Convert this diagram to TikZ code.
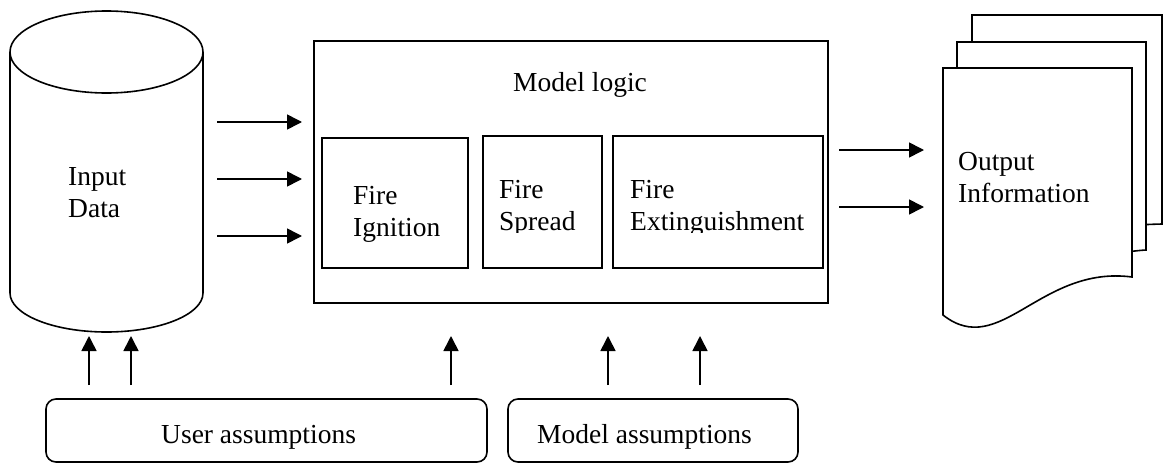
\documentclass[tikz,border=0pt]{standalone}
\usepackage{fontspec}
\setmainfont{Liberation Serif}
\usetikzlibrary{arrows.meta}
\tikzset{
  ln/.style={line width=1.6pt, draw=black},
  box/.style={ln, rectangle, inner sep=0pt},
  rbox/.style={ln, rectangle, rounded corners=10pt, inner sep=0pt},
  arr/.style={ln, -{Triangle[length=15pt,width=15pt]}},
  txt/.style={anchor=base west, inner sep=0pt, font=\fontsize{27.5}{32}\selectfont},
  page/.style={ln, fill=white, line join=miter}
}
\begin{document}
\begin{tikzpicture}[x=1pt,y=-1pt]
\useasboundingbox (0,0) rectangle (1167,463);

% Input data cylinder
\draw[ln] (10,52) -- (10,293) arc[start angle=180, end angle=0, x radius=96.5, y radius=39] -- (203,52);
\draw[ln] (106.5,52) ellipse [x radius=96.5, y radius=41];
\node[txt] (in1) at (68,185) {Input};
\node[txt] (in2) at (68,217) {Data};

% Model logic
\node[box, minimum width=514pt, minimum height=262pt] (ml) at (571,172) {};
\node[txt] (mlt) at (513,91) {Model logic};
\node[box, minimum width=146pt, minimum height=130pt] (ig) at (395,203) {};
\node[box, minimum width=119pt, minimum height=132pt] (sp) at (542.5,202) {};
\node[box, minimum width=210pt, minimum height=132pt] (ex) at (718,202) {};
\node[txt] (igt1) at (353,204) {Fire};
\node[txt] (igt2) at (353,236) {Ignition};
\begin{scope}
\clip (480,140) rectangle (830,232);
\node[txt] (spt1) at (499,198) {Fire};
\node[txt] (spt2) at (499,230) {Spread};
\node[txt] (ext1) at (630,198) {Fire};
\node[txt] (ext2) at (630,230) {Extinguishment};
\end{scope}

% Output documents
\draw[page] (972,224) -- (972,15) -- (1162,15) -- (1162,224)
  .. controls (1150,224.3) and (1140,224.8) .. (1133,225.5) -- cycle;
\draw[page] (957,250) -- (957,42) -- (1146,42) -- (1146,250)
  .. controls (1140,250.3) and (1130,251.5) .. (1118,253) -- cycle;
\draw[page] (943,315) -- (943,68) -- (1132,68) -- (1132,277)
  .. controls (1040,265) and (1000,360) .. (943,315) -- cycle;
\node[txt] (ot1) at (958,170) {Output};
\node[txt] (ot2) at (958,202) {Information};

% Assumption boxes
\node[rbox, minimum width=441pt, minimum height=63pt] (ua) at (266.5,430.5) {};
\node[txt] (uat) at (161,443) {User assumptions};
\node[rbox, minimum width=290pt, minimum height=63pt] (ma) at (653,430.5) {};
\node[txt] (mat) at (537,443) {Model assumptions};

% arrow end coordinates
\coordinate (a1s) at (217,122); \coordinate (a1e) at (302,122);
\coordinate (a2s) at (217,179); \coordinate (a2e) at (302,179);
\coordinate (a3s) at (217,236); \coordinate (a3e) at (302,236);
\coordinate (o1s) at (839,150); \coordinate (o1e) at (924,150);
\coordinate (o2s) at (839,207); \coordinate (o2e) at (924,207);
\coordinate (u1s) at (89,385); \coordinate (u1e) at (89,336);
\coordinate (u2s) at (131,385); \coordinate (u2e) at (131,336);
\coordinate (u3s) at (451,385); \coordinate (u3e) at (451,336);
\coordinate (m1s) at (608,385); \coordinate (m1e) at (608,336);
\coordinate (m2s) at (700,385); \coordinate (m2e) at (700,336);

\draw[arr] (a1s) -- (a1e);
\draw[arr] (a2s) -- (a2e);
\draw[arr] (a3s) -- (a3e);
\draw[arr] (o1s) -- (o1e);
\draw[arr] (o2s) -- (o2e);
\draw[arr] (u1s) -- (u1e);
\draw[arr] (u2s) -- (u2e);
\draw[arr] (u3s) -- (u3e);
\draw[arr] (m1s) -- (m1e);
\draw[arr] (m2s) -- (m2e);
\end{tikzpicture}
\end{document}
